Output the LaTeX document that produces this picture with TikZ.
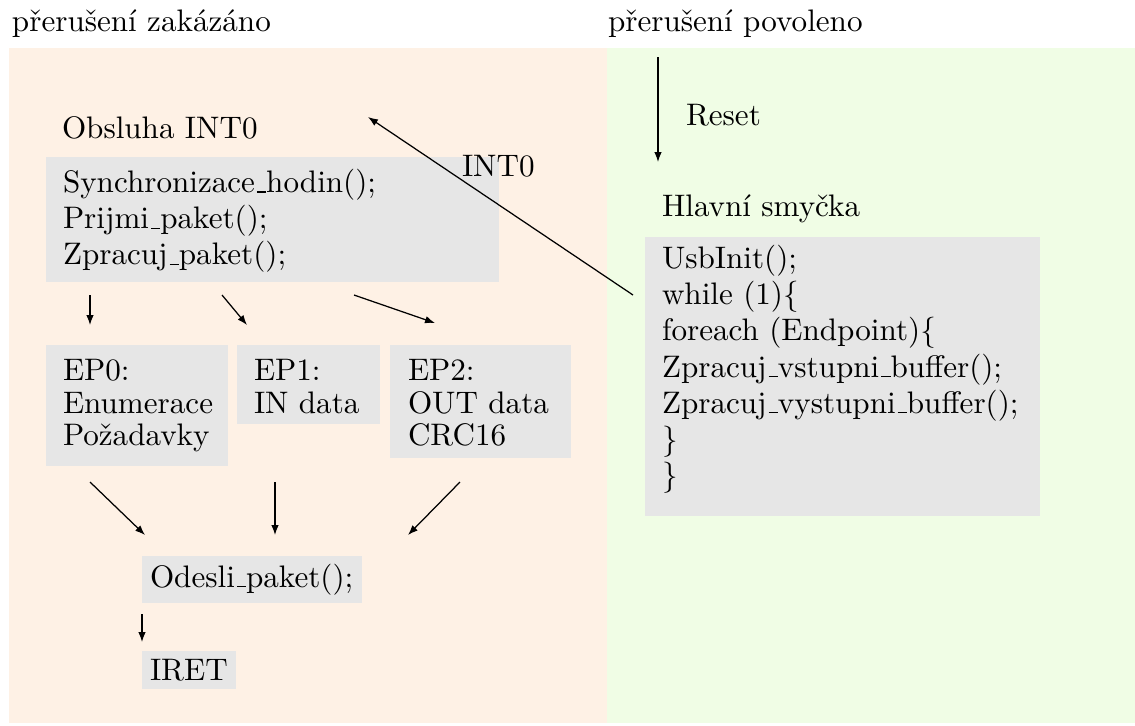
\documentclass[tikz,border=0pt]{standalone}
\usetikzlibrary{arrows.meta,fit}
\definecolor{bgorange}{HTML}{FEF1E5}
\definecolor{bggreen}{HTML}{F0FDE5}
\definecolor{boxgray}{HTML}{E6E6E6}
\newcommand\us{\leavevmode\kern.06em\vbox{\hrule width.3em}}
\begin{document}
\begin{tikzpicture}[x=0.3213pt,y=-0.3213pt,
  arr/.style={-{Latex[length=3.2pt,width=2.4pt]}, line width=0.4pt},
  area/.style={draw=none,inner sep=0pt,outer sep=0pt},
  gbox/.style={fill=boxgray,draw=none,inner sep=0pt,outer sep=0pt},
  txt/.style={inner sep=0pt,outer sep=0pt,anchor=north west,align=left,font=\fontsize{10}{10.4}\selectfont},
  lbl/.style={inner sep=0pt,outer sep=0pt,anchor=base west,font=\fontsize{10}{10.4}\selectfont},
]
\useasboundingbox (0,0) rectangle (1135,725);
% background areas
\node[area,fill=bgorange,fit={(9,48) (607,723)}] (zak) {};
\node[area,fill=bggreen,fit={(607,48) (1135,723)}] (pov) {};
% titles
\node[lbl] (tzak) at (12,31) {přerušení zakázáno};
\node[lbl] (tpov) at (608,31) {přerušení povoleno};
% left side
\node[lbl] (obs) at (62,138) {Obsluha INT0};
\node[gbox,fit={(46,157) (499,282)}] (sync) {};
\node[txt] (synct) at (63,169.3) {\strut Synchronizace\us hodin();\\\strut Prijmi\us paket();\\\strut Zpracuj\us paket();};

\node[gbox,fit={(46,345) (228,466)}] (ep0) {};
\node[txt] (ep0t) at (63,358.3) {\strut EP0:\\\strut Enumerace\\\strut Požadavky};
\node[gbox,fit={(237,345) (380,424)}] (ep1) {};
\node[txt] (ep1t) at (254,358.3) {\strut EP1:\\\strut IN data};
\node[gbox,fit={(390,345) (571,458)}] (ep2) {};
\node[txt] (ep2t) at (408,358.3) {\strut EP2:\\\strut OUT data\\\strut CRC16};

\node[gbox,fit={(142,556) (362,603)}] (ods) {};
\node[lbl] (odst) at (150,587) {Odesli\us paket();};
\node[gbox,fit={(142,651) (236,689)}] (iret) {};
\node[lbl] (irett) at (150,680) {IRET};

% right side
\node[lbl] (reset) at (686,125) {Reset};
\node[lbl] (hlav) at (662,216) {Hlavní smyčka};
\node[gbox,fit={(645,237) (1040,516)}] (usb) {};
\node[txt] (usbt) at (662,245.3) {\strut UsbInit();\\\strut while (1)\{\\\strut foreach (Endpoint)\{\\\strut Zpracuj\us vstupni\us buffer();\\\strut Zpracuj\us vystupni\us buffer();\\\strut \}\\\strut \}};
\node[lbl] (intl) at (462,176) {INT0};

% connector end points
\coordinate (intS) at (633,295);
\coordinate (intE) at (368,117);
\coordinate (rsS) at (658,57);
\coordinate (rsE) at (658,162);
\coordinate (a1S) at (90,295);  \coordinate (a1E) at (90,325);
\coordinate (a2S) at (222,295); \coordinate (a2E) at (247,325);
\coordinate (a3S) at (354,295); \coordinate (a3E) at (435,323);
\coordinate (b1S) at (90,482);  \coordinate (b1E) at (145,535);
\coordinate (b2S) at (275,482); \coordinate (b2E) at (275,535);
\coordinate (b3S) at (460,482); \coordinate (b3E) at (408,535);
\coordinate (cS) at (142,614);  \coordinate (cE) at (142,642);

\draw[arr] (intS) -- (intE);
\draw[arr] (rsS) -- (rsE);
\draw[arr] (a1S) -- (a1E);
\draw[arr] (a2S) -- (a2E);
\draw[arr] (a3S) -- (a3E);
\draw[arr] (b1S) -- (b1E);
\draw[arr] (b2S) -- (b2E);
\draw[arr] (b3S) -- (b3E);
\draw[arr] (cS) -- (cE);
\end{tikzpicture}
\end{document}
